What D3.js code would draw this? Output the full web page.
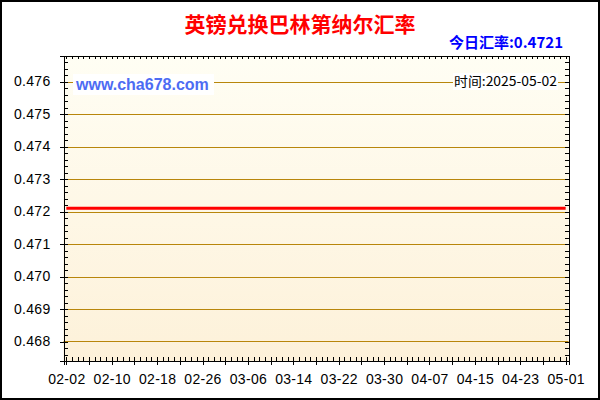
<!DOCTYPE html>
<html>
<head>
<meta charset="utf-8">
<script src="https://cdn.jsdelivr.net/npm/d3@7"></script>
<style>
  body { margin: 0; background: #fff; }
  svg { display: block; }
  .axis text { font-family: "Liberation Sans", Arial, sans-serif; font-size: 14px; fill: #000; letter-spacing: 0.3px; }
  .axis line, .axis path { stroke: #000; shape-rendering: crispEdges; }
</style>
</head>
<body>
<svg id="chart" width="600" height="400"></svg>
<script>
// chart data
var titleText = "英镑兑换巴林第纳尔汇率";
var todayRate = "0.4721";
var dateText = "2025-05-02";
var siteText = "www.cha678.com";

var dates = ["2025-02-02","2025-02-10","2025-02-18","2025-02-26","2025-03-06","2025-03-14",
             "2025-03-22","2025-03-30","2025-04-07","2025-04-15","2025-04-23","2025-05-01"];
var rates = [0.4721,0.4721,0.4721,0.4721,0.4721,0.4721,0.4721,0.4721,0.4721,0.4721,0.4721,0.4721];
var yTicks = [0.468,0.469,0.470,0.471,0.472,0.473,0.474,0.475,0.476];

var parse = d3.timeParse("%Y-%m-%d");
var data = dates.map(function(d, i){ return {date: parse(d), value: rates[i]}; });

var svg = d3.select("#chart");
var pLeft = 63.5, pRight = 568.5, pTop = 55.5, pBottom = 361;

// outer frame
svg.append("rect").attr("x",1).attr("y",1).attr("width",598).attr("height",398)
   .attr("fill","#fff").attr("stroke","#000").attr("stroke-width",2);

// plot background gradient
var grad = svg.append("defs").append("linearGradient")
   .attr("id","bg").attr("x1",0).attr("y1",0).attr("x2",0).attr("y2",1);
grad.append("stop").attr("offset","0%").attr("stop-color","#fffef4");
grad.append("stop").attr("offset","100%").attr("stop-color","#fdf1d9");
svg.append("rect").attr("x",pLeft).attr("y",pTop).attr("width",pRight-pLeft).attr("height",pBottom-pTop)
   .attr("fill","url(#bg)");

var x = d3.scaleTime()
   .domain([d3.timeHour.offset(parse("2025-02-02"), -12), d3.timeHour.offset(parse("2025-05-01"), 12)])
   .range([pLeft, pRight]);
var y = d3.scaleLinear().domain([0.4674, 0.4768]).range([pBottom, pTop]);

var dayTicks = d3.timeDay.range(parse("2025-02-02"), d3.timeDay.offset(parse("2025-05-01"), 1));
var majorX = dayTicks.filter(function(d, i){ return i % 4 === 0; });
var minorY = d3.range(0, 48).map(function(i){ return +(0.4674 + i * 0.0002).toFixed(4); })
   .filter(function(v){ return v <= 0.4768; });

// grid lines
svg.append("g").selectAll("line").data(yTicks).enter().append("line")
   .attr("x1",pLeft).attr("x2",pRight)
   .attr("y1",function(d){ return Math.round(y(d)) + 0.5; })
   .attr("y2",function(d){ return Math.round(y(d)) + 0.5; })
   .attr("stroke","#b8860b").attr("stroke-width",1);

// watermark texts
var site = svg.append("g");
site.append("rect").attr("x",73).attr("y",74).attr("width",141).attr("height",21).attr("fill","#fff");
site.append("text").attr("x",76).attr("y",90).text(siteText)
   .attr("font-family","Liberation Sans, Arial, sans-serif").attr("font-size",16)
   .attr("font-weight","bold").attr("fill","#4d6cf3");

var tm = svg.append("g");
tm.append("rect").attr("x",453).attr("y",73).attr("width",105).attr("height",17).attr("fill","#fff");
tm.append("text").attr("x",454).attr("y",86).text("时间:" + dateText)
   .attr("font-family","Noto Sans CJK SC, sans-serif").attr("font-size",13)
   .attr("textLength",103).attr("lengthAdjust","spacingAndGlyphs").attr("fill","#000");

// rate line
var line = d3.line()
   .x(function(d){ return x(d.date); })
   .y(function(d){ return y(d.value); });
svg.append("path").datum(data).attr("d", line)
   .attr("fill","none").attr("stroke","#ff0000").attr("stroke-width",3);

// axes
svg.append("g").attr("class","axis").attr("transform","translate(" + pLeft + ",0)")
   .call(d3.axisLeft(y).tickValues(yTicks).tickSize(4).tickPadding(9).tickFormat(d3.format(".3f")));
svg.append("g").attr("class","axis").attr("transform","translate(" + pLeft + ",0)")
   .call(d3.axisLeft(y).tickValues(minorY).tickSize(-4).tickSizeOuter(0).tickFormat(""));
svg.append("g").attr("class","axis").attr("transform","translate(" + pRight + ",0)")
   .call(d3.axisRight(y).tickValues(minorY).tickSize(-4).tickSizeOuter(0).tickFormat(""));

svg.append("g").attr("class","axis").attr("transform","translate(0," + pBottom + ")")
   .call(d3.axisBottom(x).tickValues(majorX).tickSize(4).tickPadding(9)
      .tickFormat(function(d, i){ return i % 2 === 0 ? d3.timeFormat("%m-%d")(d) : ""; }));
svg.append("g").attr("class","axis").attr("transform","translate(0," + pBottom + ")")
   .call(d3.axisBottom(x).tickValues(dayTicks).tickSize(-4).tickSizeOuter(0).tickFormat(""));
svg.append("g").attr("class","axis").attr("transform","translate(0," + pTop + ")")
   .call(d3.axisTop(x).tickValues(dayTicks).tickSize(-3).tickSizeOuter(0).tickFormat(""));

// titles
svg.append("text").attr("x",300).attr("y",32).attr("text-anchor","middle").text(titleText)
   .attr("font-family","Noto Sans CJK SC, sans-serif").attr("font-size",21)
   .attr("font-weight","bold").attr("fill","#ff0000");
svg.append("text").attr("x",563).attr("y",48).attr("text-anchor","end").text("今日汇率:" + todayRate)
   .attr("font-family","Noto Sans CJK SC, sans-serif").attr("font-size",15)
   .attr("font-weight","bold").attr("fill","#0000ff");
</script>
</body>
</html>
